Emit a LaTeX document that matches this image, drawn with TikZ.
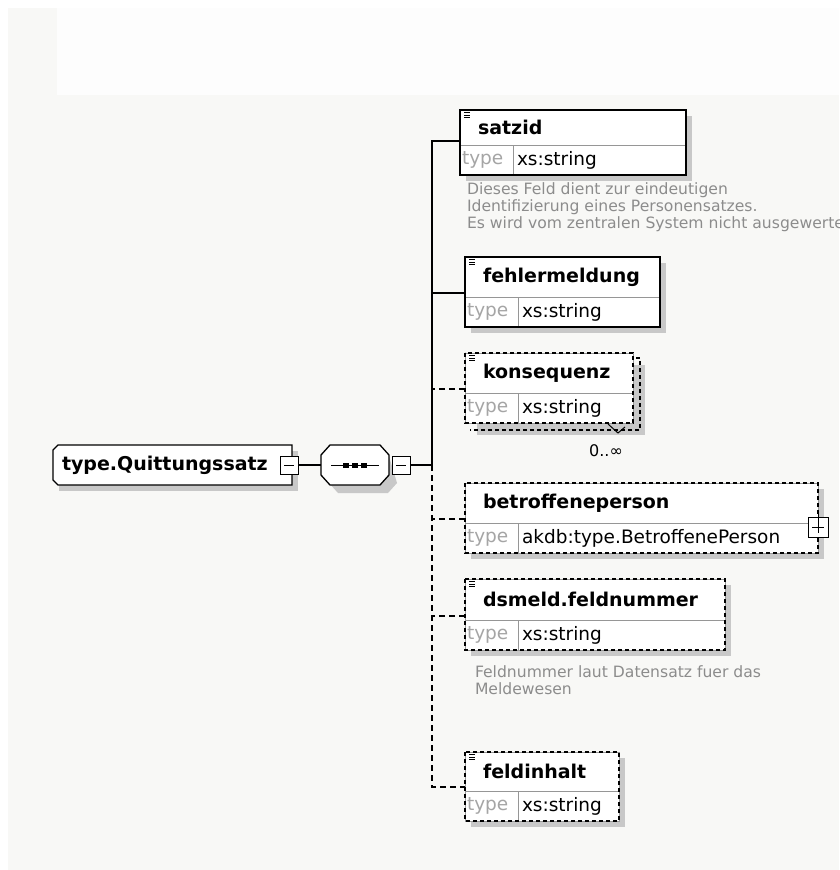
\documentclass[tikz,border=0pt]{standalone}
\usepackage{fontspec}
\setmainfont{DejaVu Sans}
\usetikzlibrary{positioning,backgrounds}
\definecolor{bgcol}{RGB}{248,248,246}
\definecolor{topcol}{RGB}{253,253,253}
\definecolor{shadecol}{RGB}{200,200,200}
\definecolor{notecol}{RGB}{140,140,140}
\definecolor{cellline}{RGB}{150,150,150}
\definecolor{typecol}{RGB}{165,165,165}

\begin{document}
\begin{tikzpicture}[x=1pt,y=-1pt,
	every node/.style={inner sep=0pt,outer sep=0pt},
	namefont/.style={font=\fontsize{19}{22}\selectfont\bfseries},
	head/.style={namefont,draw=cellline,fill=white,anchor=north west,minimum height=40pt,inner xsep=18pt,align=left},
	tcell/.style={draw=cellline,fill=white,anchor=north west,minimum height=30pt,text width=49pt,inner xsep=2pt,align=left,text=typecol,font=\fontsize{18.5}{22}\selectfont},
	vcell/.style={tcell,text=black,inner xsep=4pt},
	frame/.style={line width=1.3pt},
	optframe/.style={line width=1.3pt,dash pattern=on 4pt off 3pt},
	link/.style={line width=1.3pt},
	optlink/.style={line width=1.3pt,dash pattern=on 6pt off 4pt},
	note/.style={anchor=north west,align=left,text=notecol,font=\fontsize{15.6}{17}\selectfont},
	icon/.style={line width=0.9pt},
	shade/.style={fill=shadecol},
	btn/.style={draw,fill=white,line width=1pt,minimum size=18pt}
	]
	\useasboundingbox (0,0) rectangle (839,870);
	\clip (0,0) rectangle (839,870);
	
	% root type and sequence
	\node[namefont,anchor=north west,minimum width=239pt,minimum height=40pt,text width=221pt,inner xsep=9pt,align=left] (root) at (53,445) {type.Quittungssatz};
	\node[btn] (rootbtn) at (289,465) {};
	\draw (rootbtn.west) ++(4pt,0) -- ([xshift=-4pt]rootbtn.east);
	\node[anchor=north west,minimum width=68pt,minimum height=40pt] (seq) at (321,445) {};
	\node[btn] (seqbtn) at (401,465) {};
	\draw (seqbtn.west) ++(4pt,0) -- ([xshift=-4pt]seqbtn.east);
	\draw[line width=1pt] ([xshift=10pt]seq.west) -- ([xshift=-10pt]seq.east);
	\foreach \d in {-9,0,9}
	\fill ([xshift=\d pt]seq.center) +(-3,-2.5) rectangle +(3,2.5);
	\coordinate (trunk) at (432,465);
	
	% satzid
	\node[head,minimum height=35pt,text width=190pt] (satzid) at (460,110) {satzid};
	\node[tcell] (satzidtc) at (satzid.south west) {type};
	\node[vcell,text width=165pt] (satzidvc) at (satzidtc.north east) {xs:string};
	\draw[frame] (satzid.north west) rectangle (satzidvc.south east);
	\node[note] (satzidnote) at ([shift={(7,8)}]satzidtc.south west) {Dieses Feld dient zur eindeutigen\\Identifizierung eines Personensatzes.\\Es wird vom zentralen System nicht ausgewertet.};
	
	% fehlermeldung
	\node[head,text width=159pt] (fehlermeldung) at (465,257) {fehlermeldung};
	\node[tcell] (fehlermeldungtc) at (fehlermeldung.south west) {type};
	\node[vcell,text width=134pt] (fehlermeldungvc) at (fehlermeldungtc.north east) {xs:string};
	\draw[frame] (fehlermeldung.north west) rectangle (fehlermeldungvc.south east);
	
	% konsequenz
	\node[head,text width=132pt] (konsequenz) at (465,353) {konsequenz};
	\node[tcell] (konsequenztc) at (konsequenz.south west) {type};
	\node[vcell,text width=107pt] (konsequenzvc) at (konsequenztc.north east) {xs:string};
	\draw[optframe] (konsequenz.north west) rectangle (konsequenzvc.south east);
	\draw[optframe] ([shift={(3,5)}]konsequenz.north east) -- ([shift={(7,5)}]konsequenz.north east) -- ([shift={(7,7)}]konsequenzvc.south east) -- ([shift={(5,7)}]konsequenztc.south west);
	\coordinate (konsequenzmult) at ([shift={(-15,10)}]konsequenzvc.south east);
	\draw[line width=1pt] ([shift={(-10,-9)}]konsequenzmult) -- (konsequenzmult) -- ([shift={(7,-6)}]konsequenzmult);
	\node[font=\fontsize{16}{18}\selectfont] (konsequenzocc) at ([shift={(-12,18)}]konsequenzmult) {0..∞};
	
	% betroffeneperson
	\node[head,text width=317pt] (betroffene) at (465,483) {betroffeneperson};
	\node[tcell] (betroffenetc) at (betroffene.south west) {type};
	\node[vcell,text width=292pt] (betroffenevc) at (betroffenetc.north east) {akdb:type.BetroffenePerson};
	\draw[optframe] (betroffene.north west) rectangle (betroffenevc.south east);
	\node[btn,minimum size=20pt] (betroffenebtn) at ([yshift=-4pt]betroffene.south east) {};
	\draw (betroffenebtn.west) ++(4pt,0) -- ([xshift=-4pt]betroffenebtn.east);
	\draw (betroffenebtn.north) ++(0,4pt) -- ([yshift=4pt]betroffenebtn.south);
	
	% dsmeld.feldnummer
	\node[head,minimum height=41pt,text width=224pt] (dsmeld) at (465,579) {dsmeld.feldnummer};
	\node[tcell] (dsmeldtc) at (dsmeld.south west) {type};
	\node[vcell,text width=199pt] (dsmeldvc) at (dsmeldtc.north east) {xs:string};
	\draw[optframe] (dsmeld.north west) rectangle (dsmeldvc.south east);
	\node[note] (dsmeldnote) at ([shift={(10,16)}]dsmeldtc.south west) {Feldnummer laut Datensatz fuer das\\Meldewesen};
	
	% feldinhalt
	\node[head,minimum height=39pt,text width=118pt] (feldinhalt) at (465,752) {feldinhalt};
	\node[tcell] (feldinhalttc) at (feldinhalt.south west) {type};
	\node[vcell,text width=93pt] (feldinhaltvc) at (feldinhalttc.north east) {xs:string};
	\draw[optframe] (feldinhalt.north west) rectangle (feldinhaltvc.south east);
	
	% little list icons
	\foreach \e in {satzid,fehlermeldung,konsequenz,dsmeld,feldinhalt}
	\foreach \k in {2.5,5,7.5}
	\draw[icon] ([shift={(4,\k)}]\e.north west) -- ++(6,0);
	
	% connectors
	\foreach \e in {satzid,fehlermeldung,konsequenz,betroffene,dsmeld,feldinhalt}
	\coordinate (\e in) at ([yshift=4pt]\e.south west);
	\draw[link] (rootbtn.east) -- (seq.west);
	\draw[link] (seqbtn.east) -- (trunk);
	\draw[link] (satzidin) -- (satzidin -| trunk) -- (trunk);
	\draw[link] (fehlermeldungin) -- (fehlermeldungin -| trunk);
	\draw[optlink] (konsequenzin) -- (konsequenzin -| trunk);
	\draw[optlink] (trunk) -- (feldinhaltin -| trunk) -- (feldinhaltin);
	\draw[optlink] (betroffenein) -- (betroffenein -| trunk);
	\draw[optlink] (dsmeldin) -- (dsmeldin -| trunk);
	
	\begin{scope}[on background layer]
		\fill[white] (0,0) rectangle (839,870);
		\fill[bgcol] (8,8) rectangle (839,870);
		\fill[topcol] (57,8) rectangle (839,95);
		\foreach \e in {satzid,fehlermeldung,betroffene,dsmeld,feldinhalt}
		\fill[shade] ([shift={(6,6)}]\e.north west) rectangle ([shift={(6,6)}]\e vc.south east);
		\fill[shade] ([shift={(12,12)}]konsequenz.north west) rectangle ([shift={(12,12)}]konsequenzvc.south east);
		\fill[shade] ([shift={(6,6)}]root.north west) rectangle ([shift={(6,6)}]root.south east);
		\fill[shade] ([shift={(10,8)}]seq.north west) -- ([shift={(-1,8)}]seq.north east) -- ([shift={(8,-2)}]seq.south east) -- ([shift={(-1,8)}]seq.south east) -- ([shift={(17,8)}]seq.south west) -- ([shift={(8,-2)}]seq.south west) -- cycle;
		\filldraw[frame,fill=white] ([xshift=5pt]root.north west) -- (root.north east) -- (root.south east) -- ([xshift=5pt]root.south west) -- ([yshift=5pt]root.south west) -- ([yshift=-5pt]root.north west) -- cycle;
		\filldraw[frame,fill=white] ([xshift=9pt]seq.north west) -- ([xshift=-9pt]seq.north east) -- ([yshift=-10pt]seq.north east) -- ([yshift=10pt]seq.south east) -- ([xshift=-9pt]seq.south east) -- ([xshift=9pt]seq.south west) -- ([yshift=10pt]seq.south west) -- ([yshift=-10pt]seq.north west) -- cycle;
	\end{scope}
\end{tikzpicture}
\end{document}
